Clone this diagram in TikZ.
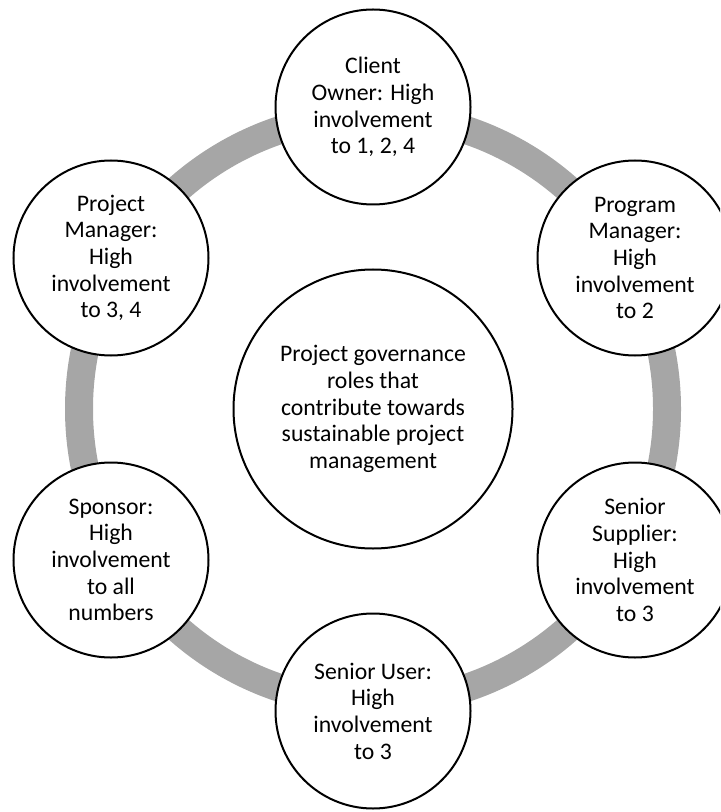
\documentclass[tikz,border=0pt]{standalone}
\usepackage{fontspec}
\setmainfont{Carlito}
\begin{document}
\begin{tikzpicture}[x=0.75pt,y=-0.75pt,
  ring/.style={draw=black!35, line width=21pt},
  role/.style={circle, draw=black, line width=1.5pt, fill=white, minimum size=146.25pt, inner sep=0pt, align=center, font=\fontsize{17.8}{20}\selectfont},
  hub/.style={role, minimum size=209.25pt}]
\useasboundingbox (0,0) rectangle (720,812);
\clip (0,0) rectangle (720,812);
\coordinate (o) at (373,409);
\draw[ring] (o) circle[radius=294];
\node[hub] (center) at (o) {Project governance\\roles that\\contribute towards\\sustainable project\\management};
\node[role] (client) at (373,107) {Client\\Owner: High\\involvement\\to 1, 2, 4};
\node[role] (program) at (635,258) {Program\\Manager:\\High\\involvement\\to 2};
\node[role] (supplier) at (635,560) {Senior\\Supplier:\\High\\involvement\\to 3};
\node[role] (user) at (373,711) {Senior User:\\High\\involvement\\to 3};
\node[role] (sponsor) at (111,560) {Sponsor:\\High\\involvement\\to all\\numbers};
\node[role] (pm) at (111,258) {Project\\Manager:\\High\\involvement\\to 3, 4};
\end{tikzpicture}
\end{document}
